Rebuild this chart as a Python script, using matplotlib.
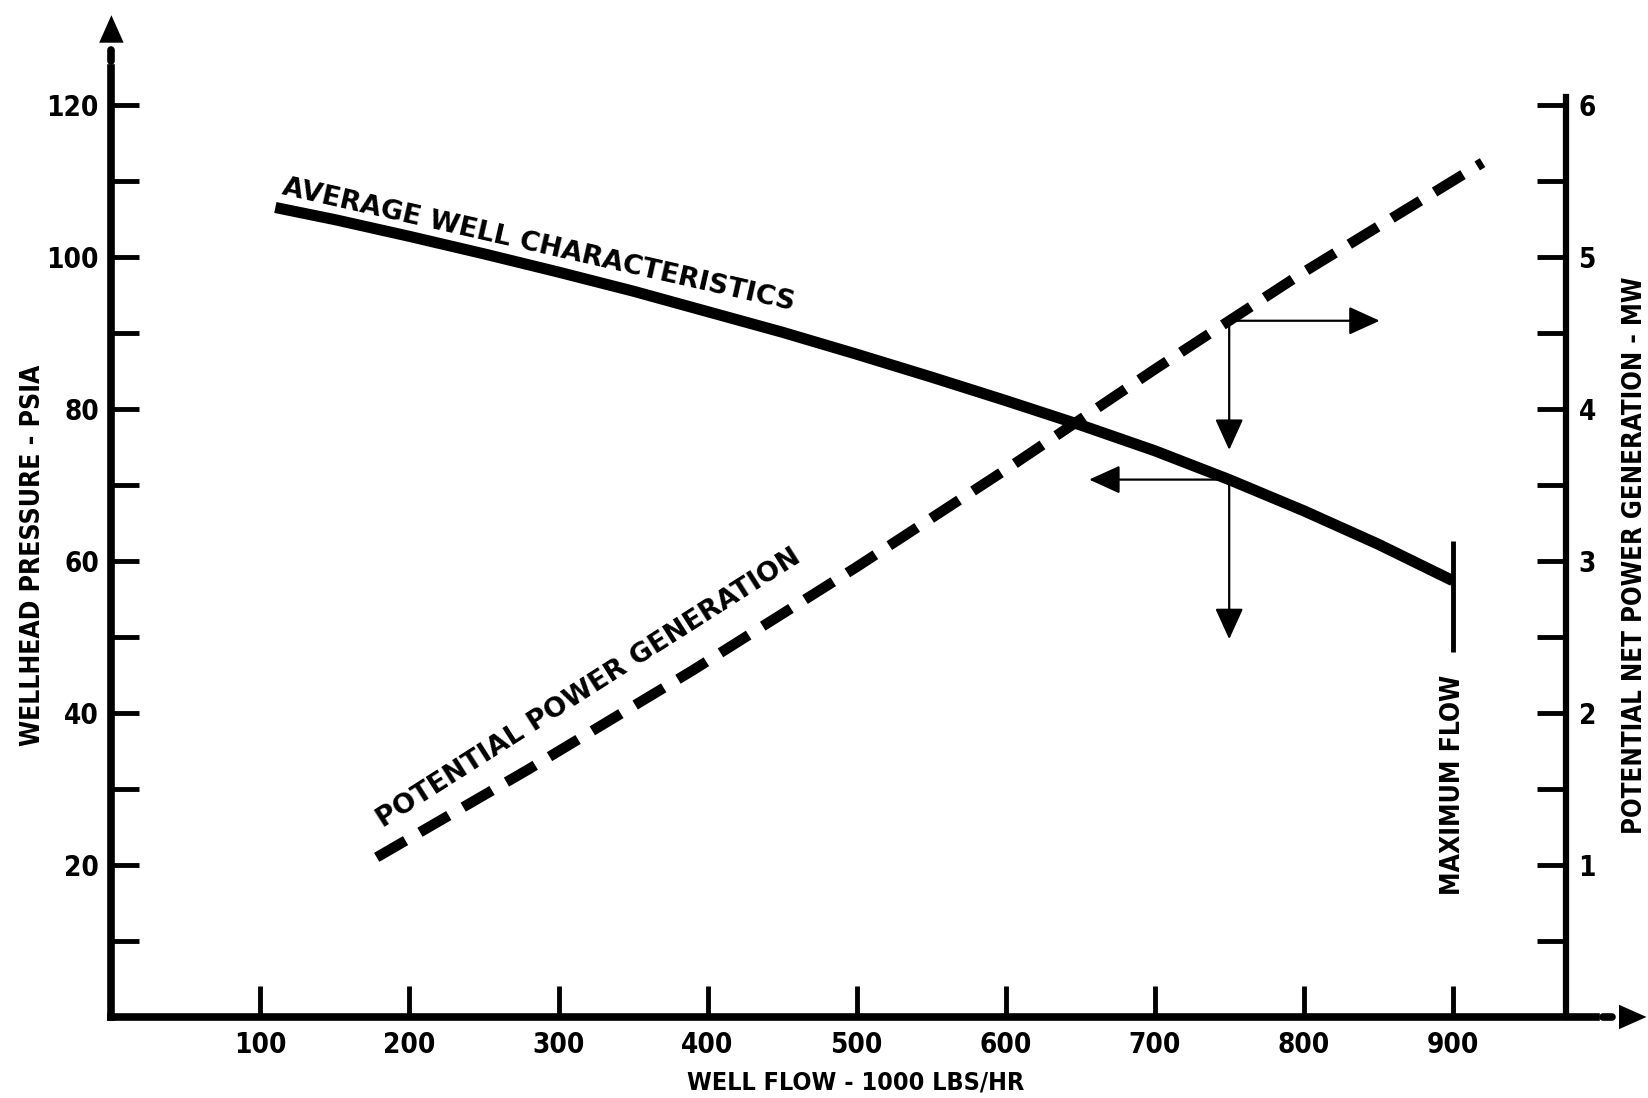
import numpy as np
import matplotlib
matplotlib.use("Agg")
import matplotlib.pyplot as plt
from matplotlib import font_manager as fm

# ── Data ──────────────────────────────────────────────────────────────────────
well_flow = [110, 150, 200, 250, 300, 350, 400, 450, 500, 550, 600,
             650, 700, 750, 800, 850, 900]                              # 1000 lbs/hr
well_pressure = [106.5, 104.9, 102.7, 100.4, 98.0, 95.5, 92.8, 90.1, 87.2,
                 84.2, 81.1, 77.9, 74.5, 70.7, 66.6, 62.2, 57.4]        # psia

power_flow = [178, 280, 390, 500, 600, 700, 800, 920]                 # 1000 lbs/hr
power_mw = [1.05, 1.63, 2.28, 2.96, 3.60, 4.26, 4.90, 5.62]           # MW

x_ticks = [100, 200, 300, 400, 500, 600, 700, 800, 900]
p_ticks = [20, 40, 60, 80, 100, 120]
mw_ticks = [1, 2, 3, 4, 5, 6]

design_flow = 750      # operating point the arrows read from
max_flow = 900


# ── Fonts: look for a bold condensed face, fall back to DejaVu ───────────────
def _weight(f):
    w = f.weight
    if isinstance(w, str):
        w = fm.weight_dict.get(w, 400)
    return w


def pick_font(names):
    for want in names:
        for f in fm.fontManager.ttflist:
            narrow = ("Narrow" in f.name or "Condensed" in f.name
                      or "ondensed" in str(f.stretch) or "Narrow" in f.fname
                      or "Condensed" in f.fname)
            if f.name.startswith(want) and _weight(f) >= 700 \
                    and f.style == "normal" and narrow:
                return f.fname
    return None


narrow_file = pick_font(["Liberation Sans Narrow", "DejaVu Sans", "Noto Sans",
                         "Roboto", "Open Sans"])


def narrow(size):
    if narrow_file:
        return fm.FontProperties(fname=narrow_file, size=size)
    return fm.FontProperties(family="DejaVu Sans", weight="bold", size=size * 0.8)


def wide(size):
    return fm.FontProperties(family="DejaVu Sans", weight="bold", size=size)


# ── Figure ────────────────────────────────────────────────────────────────────
fig = plt.figure(figsize=(16.48, 10.98), dpi=100)
ax = fig.add_axes([0.0676, 0.0738, 0.9324, 0.9262])
ax.set_xlim(0, 1031)
ax.set_ylim(0, 133.8)
ax2 = ax.twinx()
ax2.set_ylim(0, 133.8 / 20)

for s in ["top", "right"]:
    ax.spines[s].set_visible(False)
for s in ["top", "left", "bottom"]:
    ax2.spines[s].set_visible(False)
ax.spines["left"].set_linewidth(5.5)
ax.spines["bottom"].set_linewidth(5.5)
ax.spines["left"].set_bounds(0, 124.9)
ax.spines["bottom"].set_bounds(0, 996)
ax2.spines["right"].set_position(("data", 976))
ax2.spines["right"].set_linewidth(4.5)
ax2.spines["right"].set_bounds(0, 6.05)

# ticks
ax.set_xticks(x_ticks)
ax.set_xticklabels([str(v) for v in x_ticks])
ax.tick_params(axis="x", direction="in", length=22, width=3.5, pad=10)

ax.set_yticks(p_ticks)
ax.set_yticks([v - 10 for v in p_ticks], minor=True)
ax.set_yticklabels([str(v) for v in p_ticks])
ax.tick_params(axis="y", which="both", direction="in", length=20, width=3.5, pad=9)

ax2.set_yticks(mw_ticks)
ax2.set_yticks([v - 0.5 for v in mw_ticks], minor=True)
ax2.set_yticklabels([str(v) for v in mw_ticks])
ax2.tick_params(axis="y", which="both", direction="in", length=21, width=3.5, pad=9)

for lbl in ax.get_xticklabels() + ax.get_yticklabels() + ax2.get_yticklabels():
    lbl.set_fontproperties(narrow(20))

# ── Curves ────────────────────────────────────────────────────────────────────
ax.plot(well_flow, well_pressure, color="black", lw=8,
        solid_capstyle="butt", solid_joinstyle="round")
ax2.plot(power_flow, power_mw, color="black", lw=7.5,
         dashes=(3.2, 1.6), dash_capstyle="butt")

ax.text(114, 108.3, "AVERAGE WELL CHARACTERISTICS", fontproperties=wide(19.5),
        rotation=-12.8, rotation_mode="anchor", ha="left", va="baseline")
ax.text(182, 24.8, "POTENTIAL POWER GENERATION", fontproperties=wide(19.5),
        rotation=32.5, rotation_mode="anchor", ha="left", va="baseline")

# maximum flow marker
p_end = np.interp(max_flow, well_flow, well_pressure)
ax.plot([max_flow, max_flow], [p_end - 9.4, p_end + 5.2], color="black",
        lw=3.5, solid_capstyle="butt")
ax.text(max_flow, 30.5, "MAXIMUM FLOW", fontproperties=narrow(19),
        rotation=90, ha="center", va="center")

# read-off arrows at design flow
p_design = np.interp(design_flow, well_flow, well_pressure)
mw_design = np.interp(design_flow, power_flow, power_mw) * 20
arrow = dict(arrowstyle="-|>,head_length=0.55,head_width=0.25",
             mutation_scale=35, lw=1.6, color="black",
             shrinkA=0, shrinkB=0)
ax.annotate("", xy=(design_flow + 101, mw_design), xytext=(design_flow, mw_design),
            arrowprops=arrow)
ax.annotate("", xy=(design_flow, mw_design - 17.0), xytext=(design_flow, mw_design),
            arrowprops=arrow)
ax.annotate("", xy=(design_flow - 94, p_design), xytext=(design_flow, p_design),
            arrowprops=arrow)
ax.annotate("", xy=(design_flow, p_design - 21), xytext=(design_flow, p_design),
            arrowprops=arrow)

# axis end arrows (dot + head)
axis_arrow = dict(arrowstyle="-|>,head_length=0.9,head_width=0.4",
                  mutation_scale=22, lw=0, color="black",
                  shrinkA=0, shrinkB=0)
ax.plot([0, 0], [125.8, 127.2], color="black", lw=5.5,
        solid_capstyle="round", clip_on=False)
ax.annotate("", xy=(0, 131.8), xytext=(0, 128.4), arrowprops=axis_arrow)
ax.plot([1001, 1007], [0, 0], color="black", lw=5.5,
        solid_capstyle="round", clip_on=False)
ax.annotate("", xy=(1030, 0), xytext=(1011, 0), arrowprops=axis_arrow)

# axis titles
fig.text(0.020, 0.4945, "WELLHEAD PRESSURE - PSIA", fontproperties=narrow(19),
         rotation=90, ha="center", va="center")
fig.text(0.992, 0.494, "POTENTIAL NET POWER GENERATION - MW",
         fontproperties=narrow(18.5), rotation=90, ha="center", va="center")
fig.text(0.519, 0.0137, "WELL FLOW - 1000 LBS/HR", fontproperties=narrow(18),
         ha="center", va="center")

fig.savefig("out.png", dpi=100)
